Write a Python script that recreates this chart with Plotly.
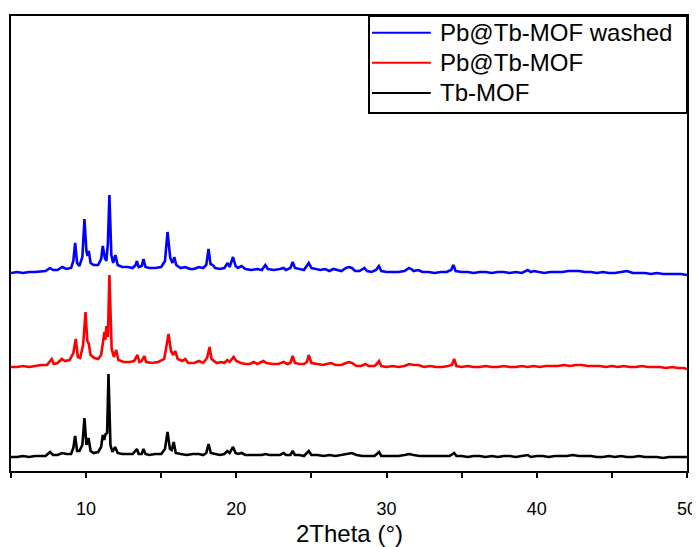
import plotly.graph_objects as go

# ---- data (2Theta in degrees, intensity in arbitrary units above each baseline) ----
blue_x = [5.0, 5.4, 5.8, 6.2, 6.6, 7.0, 7.3, 7.6, 7.8, 8.1, 8.4, 8.7, 9.0, 9.15, 9.27, 9.4, 9.55, 9.75, 9.89, 10.02,
          10.1, 10.18, 10.3, 10.5, 10.8, 11.0, 11.11, 11.25, 11.35, 11.45, 11.55, 11.68, 11.8, 11.95, 12.1, 12.4, 12.8,
          13.1, 13.3, 13.38, 13.5, 13.7, 13.82, 13.95, 14.2, 14.6, 15.0, 15.25, 15.42, 15.6, 15.75, 15.87, 16.0, 16.3,
          16.6, 16.9, 17.2, 17.5, 17.8, 18.0, 18.15, 18.28, 18.43, 18.6, 18.9, 19.2, 19.42, 19.55, 19.78, 19.95, 20.1,
          20.35, 20.6, 21.0, 21.4, 21.7, 21.93, 22.1, 22.5, 22.9, 23.15, 23.3, 23.6, 23.75, 23.9, 24.2, 24.5, 24.82, 25.0,
          25.3, 25.6, 25.9, 26.2, 26.45, 26.7, 27.0, 27.3, 27.5, 27.7, 27.9, 28.2, 28.53, 28.7, 29.0, 29.3, 29.49, 29.65,
          30.0, 30.4, 30.8, 31.2, 31.49, 31.65, 31.8, 32.1, 32.4, 32.8, 33.2, 33.6, 34.0, 34.3, 34.45, 34.6, 35.0, 35.4,
          35.8, 36.2, 36.6, 37.0, 37.4, 37.8, 38.2, 38.6, 39.0, 39.4, 39.6, 39.8, 40.1, 40.5, 40.9, 41.3, 41.7, 42.1,
          42.4, 42.8, 43.2, 43.6, 44.0, 44.4, 44.8, 45.2, 45.6, 46.0, 46.4, 46.8, 47.2, 47.6, 48.0, 48.4, 48.8, 49.2,
          49.6, 50.0]
blue_y = [0, 1, 0, 1, 1, 2, 2, 5, 3, 3, 6, 4, 5, 12, 30, 10, 7, 16, 54, 22,
          17, 22, 10, 8, 8, 14, 27, 15, 12, 30, 78, 18, 10, 18, 8, 6, 6,
          5, 8, 12, 6, 7, 14, 6, 5, 5, 6, 12, 41, 15, 10, 16, 8, 5,
          6, 4, 4, 6, 5, 8, 24, 9, 8, 5, 4, 5, 10, 6, 16, 7, 5,
          7, 4, 3, 4, 3, 8, 4, 3, 4, 5, 3, 5, 11, 5, 4, 3, 10, 5,
          4, 3, 4, 2, 4, 3, 2, 5, 6, 5, 2, 2, 5, 2, 1, 3, 7, 2,
          1, 1, 1, 2, 5, 4, 2, 3, 1, 1, 0, 1, 1, 3, 8, 2, 1, 1,
          0, 1, 1, 0, 1, 1, 0, 1, 0, 3, 1, 2, 1, 0, 1, 1, 1, 2,
          2, 2, 1, 1, 0, 1, 0, 0, 1, 2, 0, 0, 0, -1, 0, -1, -1, -1,
          -1, -2]

red_x = [5.0, 5.4, 5.8, 6.2, 6.6, 7.0, 7.4, 7.71, 7.85, 8.1, 8.38, 8.6, 8.9, 9.15, 9.31, 9.45, 9.6, 9.8, 9.96, 10.08,
         10.18, 10.3, 10.55, 10.8, 11.0, 11.15, 11.22, 11.28, 11.35, 11.45, 11.55, 11.7, 11.85, 12.0, 12.15, 12.5, 12.9,
         13.2, 13.42, 13.55, 13.7, 13.87, 14.0, 14.4, 14.8, 15.2, 15.35, 15.49, 15.65, 15.8, 15.93, 16.1, 16.4, 16.6,
         16.8, 17.2, 17.5, 17.8, 18.05, 18.22, 18.35, 18.5, 18.7, 19.0, 19.2, 19.4, 19.55, 19.82, 20.0, 20.3, 20.6,
         20.9, 21.16, 21.4, 21.8, 22.0, 22.4, 22.8, 23.15, 23.4, 23.6, 23.75, 23.9, 24.2, 24.5, 24.7, 24.82, 25.0, 25.4,
         25.8, 26.0, 26.3, 26.6, 27.0, 27.3, 27.5, 27.7, 28.0, 28.3, 28.6, 28.8, 29.2, 29.35, 29.5, 29.65, 30.0, 30.4,
         30.8, 31.2, 31.5, 31.8, 32.1, 32.5, 32.9, 33.3, 33.7, 34.1, 34.35, 34.5, 34.65, 35.0, 35.4, 35.8, 36.2, 36.6,
         37.0, 37.4, 37.8, 38.2, 38.6, 39.0, 39.4, 39.8, 40.2, 40.6, 41.0, 41.4, 41.8, 42.2, 42.6, 43.0, 43.4, 43.8,
         44.2, 44.6, 45.0, 45.4, 45.8, 46.2, 46.6, 47.0, 47.4, 47.8, 48.2, 48.6, 49.0, 49.4, 49.8, 50.0]
red_y = [0, 0, 1, 0, 1, 2, 2, 8, 3, 4, 8, 6, 7, 14, 28, 10, 9, 22, 55, 26,
         23, 12, 9, 8, 12, 28, 35, 27, 41, 30, 92, 18, 10, 17, 7, 5, 5,
         6, 12, 5, 6, 11, 5, 4, 5, 8, 20, 33, 16, 12, 16, 8, 6, 8,
         4, 4, 6, 4, 9, 20, 8, 6, 4, 5, 4, 7, 5, 10, 6, 4, 3,
         3, 5, 3, 6, 4, 3, 3, 5, 3, 4, 11, 4, 3, 3, 5, 12, 4, 3,
         2, 3, 4, 2, 2, 4, 5, 4, 1, 1, 3, 1, 1, 3, 6, 1, 0, 1,
         0, 1, 3, 2, 2, 0, 1, 0, 0, 1, 2, 8, 1, 0, 1, 0, 0, 1,
         0, 0, 1, 0, 0, 1, 0, 1, 0, 1, 1, 1, 2, 1, 2, 2, 1, 1,
         1, 0, 1, 0, 1, 0, 0, 1, 0, 0, 0, -1, 0, -1, -1, -2]

black_x = [5.0, 5.4, 5.8, 6.2, 6.6, 7.0, 7.3, 7.6, 7.8, 8.1, 8.4, 8.7, 9.0, 9.15, 9.27, 9.4, 9.55, 9.75, 9.89, 10.02,
           10.16, 10.3, 10.5, 10.8, 11.0, 11.11, 11.2, 11.3, 11.4, 11.49, 11.62, 11.75, 11.93, 12.1, 12.4, 12.8, 13.1,
           13.38, 13.5, 13.7, 13.82, 13.95, 14.2, 14.6, 15.0, 15.25, 15.42, 15.58, 15.7, 15.83, 15.97, 16.3, 16.7, 17.1,
           17.5, 17.8, 18.0, 18.15, 18.3, 18.6, 18.9, 19.2, 19.4, 19.55, 19.78, 19.95, 20.1, 20.35, 20.6, 21.0, 21.4,
           21.7, 21.93, 22.2, 22.6, 22.9, 23.15, 23.3, 23.6, 23.75, 23.9, 24.2, 24.5, 24.82, 25.0, 25.4, 25.8, 26.2,
           26.6, 27.0, 27.4, 27.7, 28.0, 28.4, 28.8, 29.2, 29.5, 29.65, 30.0, 30.4, 30.8, 31.2, 31.5, 31.8, 32.2, 32.6,
           33.0, 33.4, 33.8, 34.2, 34.5, 34.65, 35.0, 35.4, 35.8, 36.2, 36.6, 37.0, 37.4, 37.8, 38.2, 38.6, 39.0, 39.4,
           39.6, 40.0, 40.4, 40.8, 41.2, 41.6, 42.0, 42.4, 42.8, 43.2, 43.6, 44.0, 44.4, 44.8, 45.2, 45.6, 46.0, 46.4,
           46.8, 47.2, 47.6, 48.0, 48.4, 48.8, 49.2, 49.6, 50.0]
black_y = [0, 0, 1, 0, 1, 1, 1, 5, 2, 2, 4, 3, 3, 9, 21, 6, 6, 12, 39, 12,
           19, 6, 4, 5, 10, 22, 17, 23, 24, 83, 12, 5, 10, 4, 3, 3, 3,
           8, 3, 3, 8, 3, 2, 3, 3, 8, 25, 8, 7, 15, 4, 3, 2, 3,
           3, 2, 4, 13, 4, 3, 2, 3, 6, 4, 10, 4, 3, 4, 2, 2, 2,
           2, 3, 2, 2, 2, 4, 2, 2, 6, 2, 2, 1, 6, 2, 2, 1, 2,
           1, 2, 3, 4, 2, 1, 1, 1, 5, 1, 1, 1, 1, 2, 3, 2, 1, 1,
           1, 1, 1, 1, 4, 1, 1, 0, 1, 1, 0, 1, 0, 1, 1, 0, 1, 2,
           0, 1, 1, 0, 1, 1, 1, 2, 1, 1, 1, 0, 0, 1, 0, 1, 0, 0,
           1, 0, 0, 0, -1, 0, 0, 0, 0]

series_names = ["Pb@Tb-MOF washed", "Pb@Tb-MOF", "Tb-MOF"]
series_offsets = [198, 104, 14]
series_colors = ["#0000FF", "#FF0000", "#000000"]
x_tick_values = [5, 10, 15, 20, 25, 30, 35, 40, 45, 50]
x_tick_labels = ["", "10", "", "20", "", "30", "", "40", "", "50"]
x_title = "2Theta (°)"

FONT = "Liberation Sans, Arial, sans-serif"

fig = go.Figure()
for xs, ys, name, off, col in zip([blue_x, red_x, black_x], [blue_y, red_y, black_y],
                                  series_names, series_offsets, series_colors):
    fig.add_trace(go.Scatter(x=xs, y=[v + off for v in ys], mode="lines", name=name,
                             line=dict(color=col, width=2.6), showlegend=False))

# the page body has an 8px margin, so the figure is 8px smaller than the window
fig.update_layout(
    width=692, height=539,
    margin=dict(l=3, r=13, t=8, b=76, autoexpand=False),
    plot_bgcolor="white", paper_bgcolor="white",
    font=dict(family=FONT, color="black"),
    xaxis=dict(range=[5, 50], tickmode="array", tickvals=x_tick_values, ticktext=x_tick_labels,
               ticks="outside", ticklen=5, tickwidth=1.5, tickcolor="black", automargin=False,
               ticklabelstandoff=15,
               showline=True, linecolor="black", linewidth=2, mirror=True,
               showgrid=False, zeroline=False, tickfont=dict(size=18, family=FONT)),
    yaxis=dict(range=[0, 455], showticklabels=False, ticks="", showline=True, linecolor="black",
               linewidth=2, mirror=True, showgrid=False, zeroline=False, automargin=False),
)

# x-axis title placed as an annotation so it sits exactly where the reference has it
fig.add_annotation(xref="paper", yref="paper", x=0.5, y=-0.138, text=x_title, showarrow=False,
                   xanchor="center", yanchor="middle", font=dict(size=24, family=FONT, color="black"))

# legend box drawn in plot-area (paper) coordinates
fig.add_shape(type="rect", xref="paper", yref="paper", x0=0.5296, x1=1.0, y0=0.787, y1=1.0,
              line=dict(color="black", width=2), fillcolor="white", layer="above")
row_y = [0.963, 0.897, 0.831]
for name, col, yy in zip(series_names, series_colors, row_y):
    fig.add_shape(type="line", xref="paper", yref="paper", x0=0.534, x1=0.621, y0=yy, y1=yy,
                  line=dict(color=col, width=2), layer="above")
    fig.add_annotation(xref="paper", yref="paper", x=0.6317, y=yy, text=name, showarrow=False,
                       xanchor="left", yanchor="middle", font=dict(size=24, family=FONT, color="black"))

fig.write_html("out.html")
